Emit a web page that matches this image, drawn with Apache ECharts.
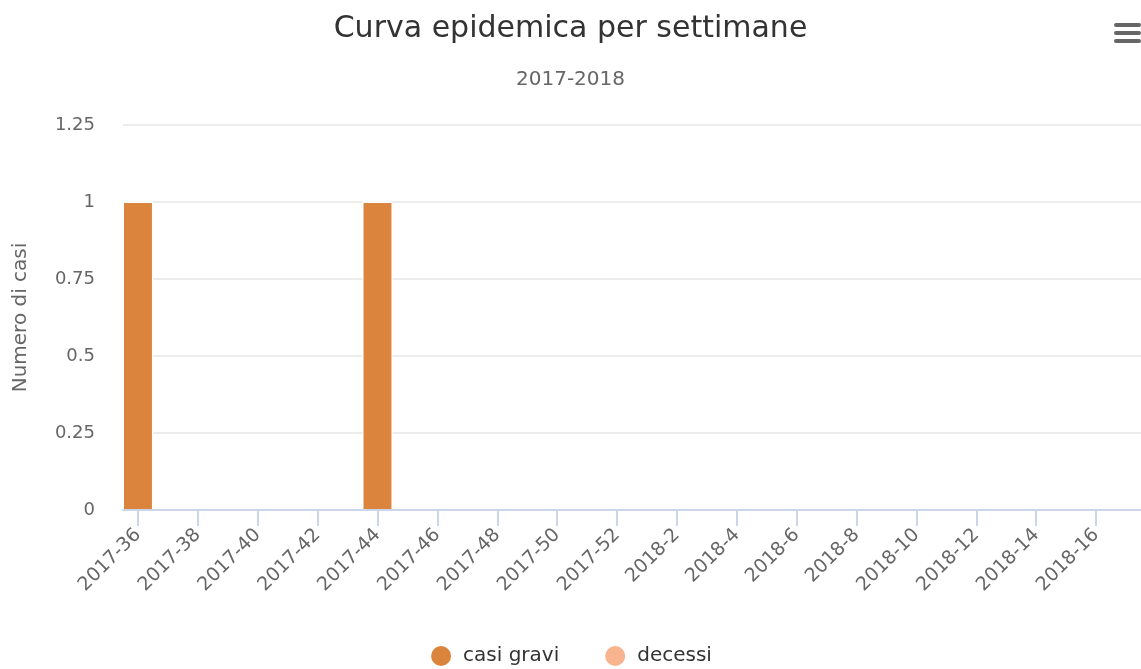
<!DOCTYPE html>
<html>
<head>
<meta charset="utf-8">
<script src="https://cdn.jsdelivr.net/npm/echarts@6/dist/echarts.min.js"></script>
<style>
  html, body { margin: 0; padding: 0; background: #fff; }
  #chart { width: 1141px; height: 669px; }
</style>
</head>
<body>
<div id="chart"></div>
<script>
  // settimane 2017-36 .. 2018-17
  var weeks = [
    '2017-36', '2017-37', '2017-38', '2017-39', '2017-40', '2017-41', '2017-42', '2017-43',
    '2017-44', '2017-45', '2017-46', '2017-47', '2017-48', '2017-49', '2017-50', '2017-51',
    '2017-52', '2018-1', '2018-2', '2018-3', '2018-4', '2018-5', '2018-6', '2018-7',
    '2018-8', '2018-9', '2018-10', '2018-11', '2018-12', '2018-13', '2018-14', '2018-15',
    '2018-16', '2018-17'
  ]
  var casiGravi = [1, 0, 0, 0, 0, 0, 0, 0, 1, 0, 0, 0, 0, 0, 0, 0, 0,
                   0, 0, 0, 0, 0, 0, 0, 0, 0, 0, 0, 0, 0, 0, 0, 0, 0]
  var decessi = [0, 0, 0, 0, 0, 0, 0, 0, 0, 0, 0, 0, 0, 0, 0, 0, 0,
                 0, 0, 0, 0, 0, 0, 0, 0, 0, 0, 0, 0, 0, 0, 0, 0, 0]
  var yTicks = [0, 0.25, 0.5, 0.75, 1, 1.25]

  var font = '"DejaVu Sans", sans-serif'
  var mainChart = echarts.init(document.getElementById('chart'))
  var option = {
    color: ['#DB843D', '#F8B38F'],
    textStyle: { fontFamily: font },
    title: {
      text: 'Curva epidemica per settimane',
      subtext: '2017-2018',
      left: 'center',
      top: 9,
      itemGap: 26,
      textStyle: { fontSize: 30, fontWeight: 'normal', color: '#333333', fontFamily: font },
      subtextStyle: { fontSize: 20, color: '#666666', fontFamily: font }
    },
    legend: {
      data: ['casi gravi', 'decessi'],
      top: 639,
      left: 'center',
      icon: 'circle',
      itemWidth: 22,
      itemHeight: 22,
      itemGap: 44,
      textStyle: { fontSize: 20, color: '#333333', fontFamily: font, padding: [0, 0, 0, 6] }
    },
    grid: {
      left: 123,
      right: 0,
      top: 125,
      bottom: 159,
      containLabel: false,
      outerBoundsMode: 'none'
    },
    xAxis: {
      type: 'category',
      data: weeks,
      boundaryGap: true,
      z: 10,
      axisLine: { show: true, lineStyle: { color: '#ccd6eb', width: 2 } },
      axisTick: { show: true, alignWithLabel: true, interval: 1, length: 16, lineStyle: { color: '#ccd6eb', width: 2 } },
      axisLabel: { interval: 1, rotate: 45, fontSize: 19, color: '#666666', margin: 22, fontFamily: font }
    },
    yAxis: {
      type: 'value',
      min: yTicks[0],
      max: yTicks[yTicks.length - 1],
      interval: 0.25,
      name: 'Numero di casi',
      nameLocation: 'middle',
      nameGap: 92,
      nameTextStyle: { fontSize: 20, color: '#666666', fontFamily: font },
      axisLine: { show: false },
      axisTick: { show: false },
      axisLabel: { fontSize: 18, color: '#666666', margin: 28, fontFamily: font },
      splitLine: { lineStyle: { color: '#e6e6e6', width: 1.5 } }
    },
    series: [
      {
        name: 'casi gravi',
        type: 'bar',
        stack: 'casi',
        barCategoryGap: '0%',
        data: casiGravi,
        itemStyle: { borderColor: '#ffffff', borderWidth: 1 }
      },
      {
        name: 'decessi',
        type: 'bar',
        stack: 'casi',
        barCategoryGap: '0%',
        data: decessi,
        itemStyle: { borderColor: '#ffffff', borderWidth: 1 }
      }
    ],
    graphic: [
      {
        type: 'group',
        right: 0,
        top: 23,
        children: [
          { type: 'rect', shape: { x: 0, y: 0, width: 27, height: 4, r: 2 }, style: { fill: '#666666' } },
          { type: 'rect', shape: { x: 0, y: 8, width: 27, height: 4, r: 2 }, style: { fill: '#666666' } },
          { type: 'rect', shape: { x: 0, y: 16, width: 27, height: 4, r: 2 }, style: { fill: '#666666' } }
        ]
      }
    ]
  }
  mainChart.setOption(option, true)
</script>
</body>
</html>
